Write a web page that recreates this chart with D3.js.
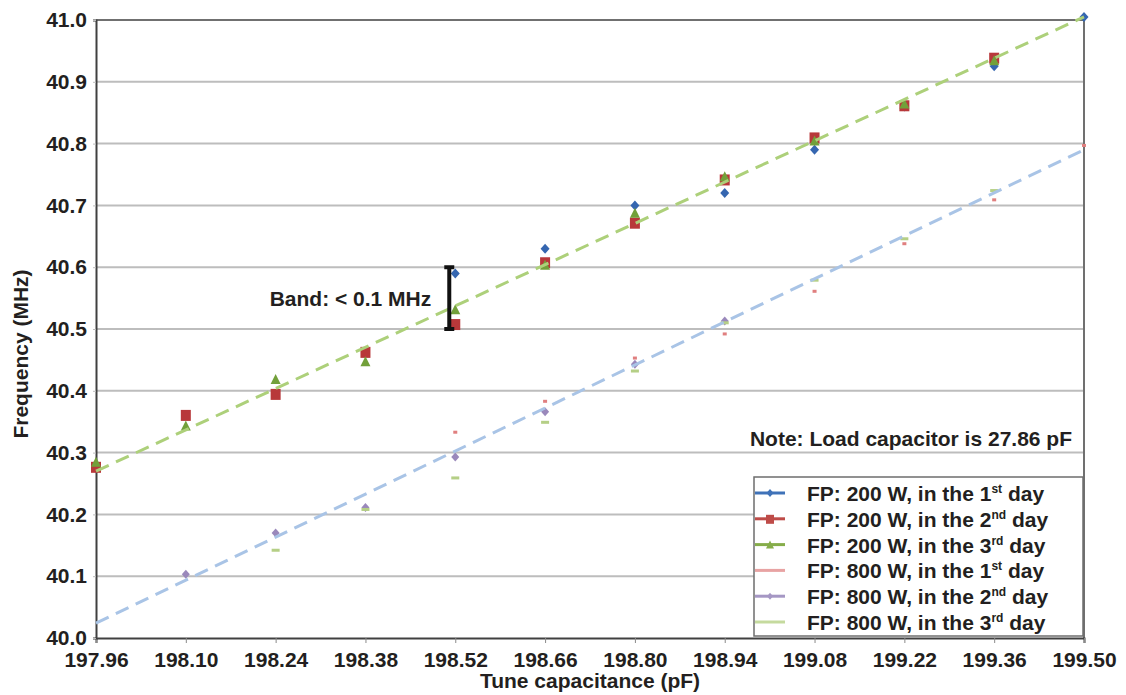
<!DOCTYPE html>
<html lang="en">
  <head>
    <meta charset="UTF-8" />
    <title>Tune capacitance vs frequency</title>
    <script src="https://cdn.jsdelivr.net/npm/d3@7"></script>
    <style>
      body { margin: 0; background: #fff; }
      text { font-family: 'Liberation Sans', Arial, sans-serif; font-weight: bold; fill: #231f20; }
    </style>
  </head>
  <body>
    <div id="container"></div>
    <script>
      // data
      const capacitance = [197.96, 198.10, 198.24, 198.38, 198.52, 198.66, 198.80, 198.94, 199.08, 199.22, 199.36, 199.50]
      const yTicks = [40.0, 40.1, 40.2, 40.3, 40.4, 40.5, 40.6, 40.7, 40.8, 40.9, 41.0]

      const fp200day1 = [null, null, null, null, 40.59, 40.63, 40.70, 40.72, 40.79, 40.86, 40.925, 41.005]
      const fp200day2 = [40.277, 40.361, 40.395, 40.463, 40.508, 40.608, 40.672, 40.742, 40.81, 40.862, 40.939, null]
      const fp200day3 = [40.285, 40.344, 40.419, 40.448, 40.532, 40.604, 40.688, 40.747, 40.805, 40.865, 40.935, null]
      const fp800day1 = [null, null, null, null, 40.333, 40.383, 40.453, 40.492, 40.561, 40.638, 40.709, 40.797]
      const fp800day2 = [null, 40.103, 40.170, 40.211, 40.293, 40.366, 40.443, 40.513, null, null, null, null]
      const fp800day3 = [null, null, 40.142, 40.208, 40.259, 40.349, 40.432, 40.510, 40.579, 40.646, 40.724, null]

      // linear trend lines (end points)
      const trend200 = [[197.96, 40.27], [199.50, 41.005]]
      const trend800 = [[197.96, 40.024], [199.50, 40.79]]

      const seriesNames = [
        ['FP: 200 W, in the 1', 'st', ' day'],
        ['FP: 200 W, in the 2', 'nd', ' day'],
        ['FP: 200 W, in the 3', 'rd', ' day'],
        ['FP: 800 W, in the 1', 'st', ' day'],
        ['FP: 800 W, in the 2', 'nd', ' day'],
        ['FP: 800 W, in the 3', 'rd', ' day']
      ]

      const width = 1126
      const height = 695
      const marginTop = 20
      const marginRight = 42
      const marginBottom = 57
      const marginLeft = 96

      const series = [
        { values: fp200day1, color: '#3566b0', legendColor: '#3f72b8', shape: 'diamond', size: 9 },
        { values: fp200day2, color: '#b8383a', legendColor: '#be4b48', shape: 'square', size: 10 },
        { values: fp200day3, color: '#72a03a', legendColor: '#86ad4a', shape: 'triangle', size: 10 },
        { values: fp800day1, color: '#e07f7f', legendColor: '#e8a3a3', shape: 'dot', size: 4 },
        { values: fp800day2, color: '#9a88bb', legendColor: '#a597c4', shape: 'diamond', size: 8 },
        { values: fp800day3, color: '#b5cf86', legendColor: '#c5da9e', shape: 'dash', size: 8 }
      ]

      const x = d3.scaleLinear()
        .domain([197.96, 199.50])
        .range([marginLeft, width - marginRight])

      const y = d3.scaleLinear()
        .domain([40.0, 41.0])
        .range([height - marginBottom, marginTop])

      const svg = d3.create('svg')
        .attr('width', width)
        .attr('height', height)
        .attr('viewBox', [0, 0, width, height])

      // gridlines
      svg.append('g')
        .selectAll('line')
        .data(yTicks.filter(d => d > 40.0 && d < 41.0))
        .join('line')
        .attr('x1', marginLeft)
        .attr('x2', width - marginRight)
        .attr('y1', d => y(d))
        .attr('y2', d => y(d))
        .attr('stroke', '#bdbdbd')
        .attr('stroke-width', 2)

      // top + right border
      svg.append('path')
        .attr('d', `M${marginLeft},${y(41.0)}H${x(199.50)}V${y(40.0)}`)
        .attr('fill', 'none')
        .attr('stroke', '#707070')
        .attr('stroke-width', 2)

      // x axis
      const xAxis = svg.append('g')
        .attr('transform', `translate(0, ${y(40.0)})`)
        .call(d3.axisBottom(x)
          .tickValues(capacitance)
          .tickFormat(d3.format('.2f'))
          .tickSize(5)
          .tickPadding(9))
      xAxis.selectAll('text').attr('font-size', 21).attr('font-family', null)
      xAxis.selectAll('line').attr('stroke', '#8a8a8a')
      xAxis.select('.domain').attr('stroke', '#404040').attr('stroke-width', 2)

      // y axis
      const yAxis = svg.append('g')
        .attr('transform', `translate(${marginLeft}, 0)`)
        .call(d3.axisLeft(y)
          .tickValues(yTicks)
          .tickFormat(d3.format('.1f'))
          .tickSize(3)
          .tickPadding(6))
      yAxis.selectAll('text').attr('font-size', 21).attr('font-family', null)
      yAxis.selectAll('line').attr('stroke', '#bdbdbd')
      yAxis.select('.domain').attr('stroke', '#404040').attr('stroke-width', 2)

      // markers
      function drawMarker(g, shape, size, color) {
        const s = size / 2
        if (shape === 'diamond') {
          g.append('path').attr('d', `M0,${-s - 0.5}L${s},0L0,${s + 0.5}L${-s},0Z`).attr('fill', color)
        } else if (shape === 'square') {
          g.append('rect').attr('x', -s).attr('y', -s).attr('width', size).attr('height', size + 1).attr('fill', color)
        } else if (shape === 'triangle') {
          g.append('path').attr('d', `M0,${-s}L${s},${s}L${-s},${s}Z`).attr('fill', color)
        } else if (shape === 'dot') {
          g.append('rect').attr('x', -2).attr('y', -1.5).attr('width', 4).attr('height', 3).attr('fill', color)
        } else if (shape === 'dash') {
          g.append('rect').attr('x', -s).attr('y', -1.5).attr('width', size).attr('height', 3).attr('fill', color)
        }
      }

      series.forEach(sr => {
        const pts = capacitance.map((c, i) => [c, sr.values[i]]).filter(p => p[1] != null)
        svg.append('g')
          .selectAll('g')
          .data(pts)
          .join('g')
          .attr('transform', d => `translate(${x(d[0])}, ${y(d[1])})`)
          .each(function () { drawMarker(d3.select(this), sr.shape, sr.size, sr.color) })
      })

      // trend lines
      const line = d3.line().x(d => x(d[0])).y(d => y(d[1]))
      svg.append('path')
        .attr('d', line(trend200))
        .attr('fill', 'none')
        .attr('stroke', '#add07a')
        .attr('stroke-width', 3)
        .attr('stroke-dasharray', '14 8')
      svg.append('path')
        .attr('d', line(trend800))
        .attr('fill', 'none')
        .attr('stroke', '#a9c4e6')
        .attr('stroke-width', 3)
        .attr('stroke-dasharray', '14 8')

      // band bracket
      const bx = x(198.52) - 6
      svg.append('path')
        .attr('d', `M${bx - 5},${y(40.6)}H${bx + 5}M${bx},${y(40.6)}V${y(40.5)}M${bx - 5},${y(40.5)}H${bx + 5}`)
        .attr('stroke', '#111')
        .attr('stroke-width', 4)
        .attr('fill', 'none')
      svg.append('text')
        .attr('x', x(198.52) - 24)
        .attr('y', y(40.55) + 8)
        .attr('text-anchor', 'end')
        .attr('font-size', 21)
        .text('Band: < 0.1 MHz')

      // note
      svg.append('text')
        .attr('x', x(199.50) - 12)
        .attr('y', y(40.3) - 7)
        .attr('text-anchor', 'end')
        .attr('font-size', 21)
        .text('Note: Load capacitor is 27.86 pF')

      // axis titles
      svg.append('text')
        .attr('transform', `translate(28, ${(y(40.0) + y(41.0)) / 2 + 25}) rotate(-90)`)
        .attr('text-anchor', 'middle')
        .attr('font-size', 21)
        .text('Frequency (MHz)')
      svg.append('text')
        .attr('x', (x(197.96) + x(199.50)) / 2)
        .attr('y', 688)
        .attr('text-anchor', 'middle')
        .attr('font-size', 21)
        .text('Tune capacitance (pF)')

      // legend
      const legend = svg.append('g').attr('transform', 'translate(754, 477)')
      legend.append('rect')
        .attr('width', 329)
        .attr('height', 159)
        .attr('fill', '#fff')
        .attr('stroke', '#6e6e6e')
        .attr('stroke-width', 1.5)
      const rows = legend.selectAll('g.row')
        .data(series)
        .join('g')
        .attr('class', 'row')
        .attr('transform', (d, i) => `translate(0, ${16 + i * 25.8})`)
      rows.append('line')
        .attr('x1', 1).attr('x2', 31)
        .attr('stroke', d => d.legendColor)
        .attr('stroke-width', 3)
      rows.each(function (d) {
        if (d.shape === 'diamond' || d.shape === 'square' || d.shape === 'triangle') {
          const g = d3.select(this).append('g').attr('transform', 'translate(16, 0)')
          drawMarker(g, d.shape, d.size - 2, d.legendColor)
        }
      })
      const labels = rows.append('text')
        .attr('x', 53)
        .attr('y', 8)
        .attr('font-size', 21)
      labels.each(function (d, i) {
        const t = d3.select(this)
        t.append('tspan').text(seriesNames[i][0])
        t.append('tspan').attr('font-size', 12).attr('dy', -8).text(seriesNames[i][1])
        t.append('tspan').attr('dy', 8).text(seriesNames[i][2])
      })

      container.append(svg.node())
    </script>
  </body>
</html>
